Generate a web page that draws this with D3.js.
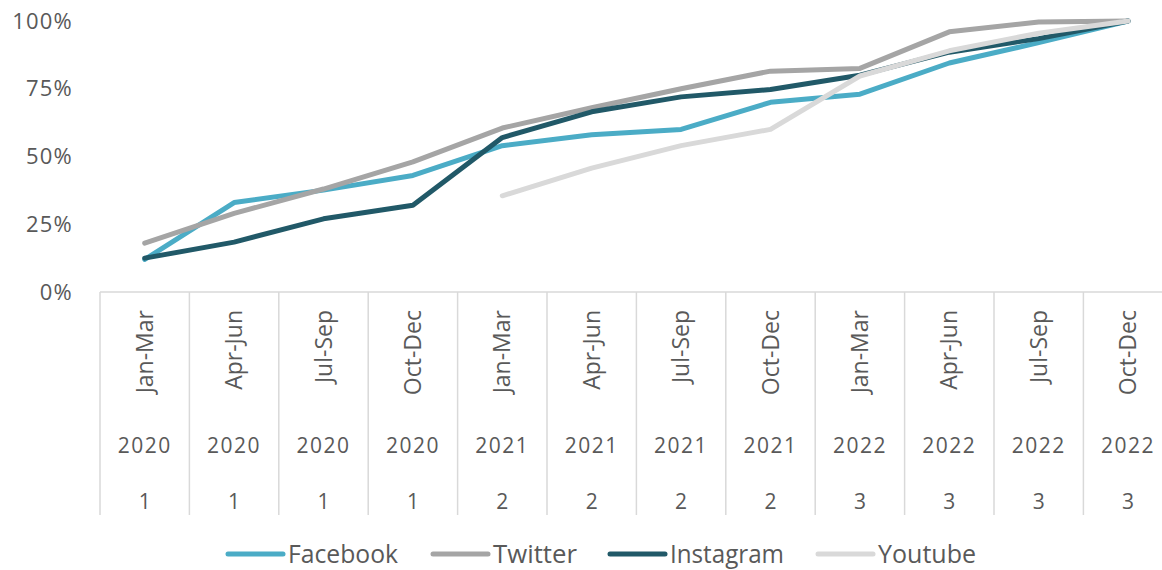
<!DOCTYPE html>
<html><head><meta charset="utf-8">
<script src="https://cdn.jsdelivr.net/npm/d3@7/dist/d3.min.js"></script>
<style>body{margin:0;background:#fff}svg{display:block}text{font-family:"Open Sans","Noto Sans",sans-serif;fill:#595959}</style>
</head><body><svg id="c" width="1162" height="570"></svg>
<script>
const quarters = ["Jan-Mar","Apr-Jun","Jul-Sep","Oct-Dec","Jan-Mar","Apr-Jun","Jul-Sep","Oct-Dec","Jan-Mar","Apr-Jun","Jul-Sep","Oct-Dec"];
const years = ["2020","2020","2020","2020","2021","2021","2021","2021","2022","2022","2022","2022"];
const levels = ["1","1","1","1","2","2","2","2","3","3","3","3"];
const yTicks = [0, 0.25, 0.5, 0.75, 1];
const seriesNames = ["Facebook","Twitter","Instagram","Youtube"];
const colors = ["#4BACC6","#A5A5A5","#215968","#D9D9D9"];
const facebook = [0.12,0.33,0.376,0.43,0.54,0.58,0.60,0.70,0.73,0.845,0.92,1.0];
const twitter = [0.18,0.29,0.38,0.48,0.605,0.68,0.75,0.815,0.825,0.96,0.996,1.0];
const instagram = [0.125,0.184,0.27,0.32,0.57,0.665,0.72,0.747,0.80,0.885,0.935,1.0];
const youtube = [null,null,null,null,0.355,0.457,0.54,0.60,0.797,0.89,0.955,1.0];
const allSeries = [facebook, twitter, instagram, youtube];

const svg = d3.select("#c");
const left = 100, step = 89.4;
const x = d3.scaleBand().domain(d3.range(12)).range([left, left + step*12]).padding(0);
const y = d3.scaleLinear().domain([0,1]).range([292, 21]);

// y labels
svg.append("g").selectAll("text").data(yTicks).join("text")
  .attr("x", 73).attr("y", d => y(d)).attr("dy","0.35em")
  .attr("text-anchor","end").style("font-size","22px").style("letter-spacing","1.2px")
  .text(d3.format(".0%"));

// axis line and dividers
const g = svg.append("g");
g.append("line").attr("x1", left).attr("x2", left+step*12).attr("y1",292).attr("y2",292)
  .attr("stroke","#D9D9D9").attr("stroke-width",1.5);
g.selectAll("line.div").data(d3.range(13)).join("line").attr("class","div")
  .attr("x1", i => left + i*step).attr("x2", i => left + i*step)
  .attr("y1", 292).attr("y2", 515).attr("stroke","#D9D9D9").attr("stroke-width",1.5);

// quarter labels
g.selectAll("text.q").data(quarters).join("text").attr("class","q")
  .attr("transform",(d,i)=>`translate(${x(i)+x.bandwidth()/2},310) rotate(-90)`)
  .attr("text-anchor","end").attr("dy","0.35em").style("font-size","23px").text(d=>d);
g.selectAll("text.yr").data(years).join("text").attr("class","yr")
  .attr("x",(d,i)=>x(i)+x.bandwidth()/2).attr("y",446).attr("dy","0.35em")
  .attr("text-anchor","middle").style("font-size","21px").style("letter-spacing","1.5px").text(d=>d);
g.selectAll("text.lv").data(levels).join("text").attr("class","lv")
  .attr("x",(d,i)=>x(i)+x.bandwidth()/2).attr("y",502).attr("dy","0.35em")
  .attr("text-anchor","middle").style("font-size","21px").text(d=>d);

// lines
const line = d3.line().defined(d => d != null)
  .x((d,i) => x(i)+x.bandwidth()/2).y(d => y(d));
svg.append("g").selectAll("path").data(allSeries).join("path")
  .attr("d", line).attr("fill","none")
  .attr("stroke",(d,i)=>colors[i]).attr("stroke-width",5)
  .attr("stroke-linejoin","round").attr("stroke-linecap","round");

// legend
const legX = [228, 433, 610, 818];
const legW = [110, 84, 114, 98];
const lg = svg.append("g").selectAll("g").data(seriesNames).join("g")
  .attr("transform",(d,i)=>`translate(${legX[i]},554)`);
lg.append("line").attr("x1",0).attr("x2",55).attr("stroke",(d,i)=>colors[i])
  .attr("stroke-width",5).attr("stroke-linecap","round");
lg.append("text").attr("x",60).attr("dy","0.35em").style("font-size","25px")
  .attr("textLength",(d,i)=>legW[i]).attr("lengthAdjust","spacingAndGlyphs").text(d=>d);
</script></body></html>
